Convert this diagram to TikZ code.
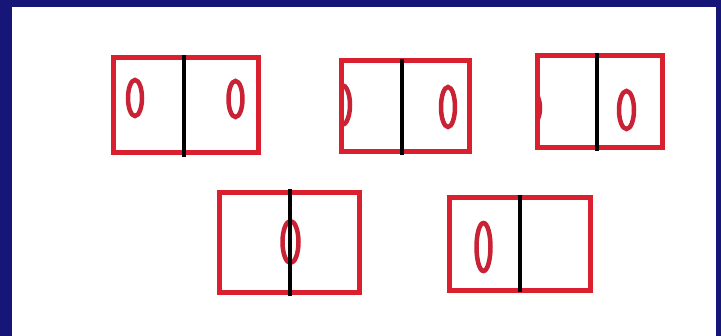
\documentclass[tikz,border=0pt]{standalone}
\usepackage{tikz}
\definecolor{slideblue}{RGB}{22,22,120}
\definecolor{boxred}{RGB}{218,32,46}
\definecolor{holered}{RGB}{200,34,52}

\begin{document}
\begin{tikzpicture}[x=1pt,y=-1pt,
  panel/.style={draw=boxred,line width=5pt},
  divider/.style={draw=black,line width=4pt},
  hole/.style={draw=holered,line width=4.5pt}]
\fill[slideblue] (0,0) rectangle (721,336);
\fill[white] (12,7) rectangle (716,336);
\useasboundingbox (0,0) rectangle (721,336);
% top row
\draw[hole] (135,98) ellipse (7 and 18);
\draw[hole] (235.5,99) ellipse (7 and 18);
\draw[panel] (113,58) rectangle (258,153);
\draw[divider] (184,55) -- (184,157);
\begin{scope}
  \clip (341,61) rectangle (469,152);
  \draw[hole] (342,105) ellipse (8 and 20);
\end{scope}
\draw[hole] (448,107) ellipse (7 and 20);
\draw[panel] (341,61) rectangle (469,152);
\draw[divider] (401.5,59) -- (401.5,155);
\begin{scope}
  \clip (537,56) rectangle (662,148);
  \draw[hole] (530,108) ellipse (10 and 18);
\end{scope}
\draw[hole] (626.5,110) ellipse (7.5 and 19);
\draw[panel] (537,56) rectangle (662,148);
\draw[divider] (596.5,53) -- (596.5,151);
% bottom row
\draw[hole] (290.5,242) ellipse (8 and 21);
\draw[panel] (219,193) rectangle (359,293);
\draw[divider] (290,189) -- (290,296);
\draw[hole] (483.5,247) ellipse (7 and 24);
\draw[panel] (449,198) rectangle (590,291);
\draw[divider] (520,195) -- (520,292);
\end{tikzpicture}
\end{document}
